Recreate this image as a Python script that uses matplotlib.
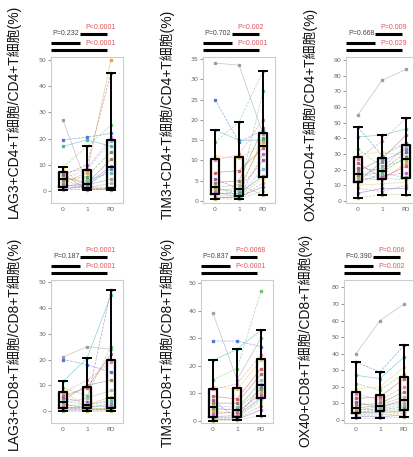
import numpy as np
import matplotlib
matplotlib.use('Agg')
import matplotlib.pyplot as plt

# 分组
groups = ['0', '1', 'PD']

# LAG3+CD4+
lag3_cd4_t0 = [27, 19.5, 17, 9.0, 8.2, 6.8, 6.3, 5.9, 5.3, 4.8, 4.2, 3.8, 3.2, 2.5, 1.8, 1.1, 1.0, 0.9, 0.8, 0.5]
lag3_cd4_t1 = [2.3, 20.5, 19.5, 17, 1.0, 8.5, 0.6, 10, 3.0, 8.0, 1.1, 5.5, 7.0, 0.9, 2.6, 4.0, 1.5, 0.4, 2.0, 0.8]
lag3_cd4_pd = [4.5, 22, 17, 25, 1.0, 20.5, 0.6, 45, 12, 19, 3.0, 15, 50, 0.9, 9.5, 7.0, 1.2, 0.5, 8.5, 0.8]

# TIM3+CD4+
tim3_cd4_t0 = [34, 25, 17.5, 14.5, 11.0, 10.0, 7.0, 5.5, 4.5, 3.7, 3.3, 3.0, 2.6, 2.2, 1.8, 1.4, 1.2, 1.0, 0.8, 0.5]
tim3_cd4_t1 = [33.5, 14.5, 15, 19.5, 10.5, 11.5, 7.5, 2.9, 5.0, 1.1, 4.0, 2.2, 3.1, 0.9, 1.8, 2.6, 1.3, 0.7, 1.0, 0.5]
tim3_cd4_pd = [16.5, 17.5, 15, 32, 14, 20, 13, 10, 18, 8.0, 1.5, 15.5, 14.5, 11.5, 6.2, 27, 5.5, 4.5, 3.5, 2.5]

# OX40+CD4+
ox40_cd4_t0 = [55, 47, 41, 33, 30, 27, 24, 21, 19, 17.5, 16.5, 16, 14.5, 13, 12.5, 11.5, 10, 8, 5, 2]
ox40_cd4_t1 = [77, 29, 42, 22, 31, 38, 15, 19.5, 27, 14.5, 21, 18.5, 13.5, 16, 25, 17.5, 11, 6, 8, 4]
ox40_cd4_pd = [84, 37, 46, 26, 29, 53, 22, 31, 42, 13.5, 35, 28, 24, 18, 33, 15, 12, 10, 8, 4]

# LAG3+CD8+
lag3_cd8_t0 = [21, 20, 11.5, 9, 8, 7, 5.8, 5, 4.3, 3.8, 3.3, 2.8, 2.2, 1.6, 1.1, 0.9, 0.8, 0.6, 0.4, 0.2]
lag3_cd8_t1 = [25, 18, 20.5, 6, 1.2, 12, 9.0, 3.5, 10, 2.7, 5, 0.9, 2.4, 0.5, 1.8, 2.1, 0.7, 1.5, 0.4, 0.2]
lag3_cd8_pd = [24, 15, 45, 25, 1.0, 19, 22, 47, 12, 3.5, 8, 0.8, 5.5, 0.4, 2, 4.5, 1.3, 2.8, 0.6, 0.2]

# TIM3+CD8+
tim3_cd8_t0 = [39, 29, 22, 15, 12.5, 11.5, 9, 7.5, 6.5, 5.5, 4.8, 4.2, 3.5, 2.5, 1.6, 1.2, 1, 0.8, 0.5, 0.2]
tim3_cd8_t1 = [15, 29, 26, 19, 11.5, 13.5, 8, 1.0, 6.5, 5, 3.8, 4.3, 2.8, 3.4, 2, 1.2, 1.5, 0.8, 0.6, 0.3]
tim3_cd8_pd = [30, 27, 33, 47, 22, 24, 19, 12.5, 17, 13.5, 15, 11.5, 10.5, 9.5, 8.5, 8, 7, 5.5, 4, 2]

# OX40+CD8+
ox40_cd8_t0 = [40, 35, 27, 22, 19, 16, 13, 11, 9, 7.5, 7, 6.5, 6, 5, 4.5, 4, 3.5, 3, 2, 1]
ox40_cd8_t1 = [60, 29, 25, 18, 20, 12, 14, 7.5, 10, 8.5, 9, 6, 8, 5.5, 4.5, 7, 4, 3, 2, 1]
ox40_cd8_pd = [70, 45, 38, 28, 32, 20, 25, 12.5, 17, 10, 14, 8, 11.5, 6.5, 5.5, 9, 5, 4, 3, 2]

ylabels = ['LAG3+CD4+T細胞/CD4+T細胞(%)', 'TIM3+CD4+T細胞/CD4+T細胞(%)', 'OX40+CD4+T細胞/CD4+T細胞(%)',
           'LAG3+CD8+T細胞/CD8+T細胞(%)', 'TIM3+CD8+T細胞/CD8+T細胞(%)', 'OX40+CD8+T細胞/CD8+T細胞(%)']
# (0 vs 1, 1 vs PD, 0 vs PD)
p_labels = [('P=0.232', 'P<0.0001', 'P<0.0001'),
            ('P=0.702', 'P=0.002', 'P=0.0001'),
            ('P=0.668', 'P=0.009', 'P=0.029'),
            ('P=0.187', 'P<0.0001', 'P<0.0001'),
            ('P=0.837', 'P=0.0068', 'P<0.0001'),
            ('P=0.390', 'P=0.006', 'P=0.002')]
y_max = [50, 35, 90, 50, 50, 80]
y_step = [10, 5, 10, 10, 10, 10]

panel_data = [(lag3_cd4_t0, lag3_cd4_t1, lag3_cd4_pd),
              (tim3_cd4_t0, tim3_cd4_t1, tim3_cd4_pd),
              (ox40_cd4_t0, ox40_cd4_t1, ox40_cd4_pd),
              (lag3_cd8_t0, lag3_cd8_t1, lag3_cd8_pd),
              (tim3_cd8_t0, tim3_cd8_t1, tim3_cd8_pd),
              (ox40_cd8_t0, ox40_cd8_t1, ox40_cd8_pd)]

patient_colors = ['#9a9a9a', '#4a6fd0', '#3cb8b0', '#6cc06c', '#e8cf5a', '#e07fb0', '#d05a5a',
                  '#8c5aa8', '#a0785a', '#7fb0e0', '#b0b0b0', '#50a050', '#e0a050', '#c060c0',
                  '#5a8ad0', '#60c0a0', '#d0d060', '#c08080', '#7070c0', '#a0c070']

LATIN_CJK = ['Liberation Sans', 'Noto Sans CJK TC', 'DejaVu Sans']
RED = '#e0555a'

W, H = 414, 457
# 每个子图的像素位置 (左, 上, 下)
axes_px = [(51, 57, 203), (203, 57, 203), (346, 57, 203),
           (51, 280, 423), (201, 280, 423), (344, 280, 423)]
ylims = [(-4.6, 51.1), (-0.5, 35.5), (-1.3, 91.9), (-4.6, 50.8), (-0.7, 51.1), (-1.8, 84.5)]
# y 轴标题中心 (像素)
label_px = [(21, 111), (175, 114), (317, 114), (21, 343), (175, 342), (312, 340)]


def draw_panel(fig, k):
    left, top, bottom = axes_px[k]
    h = bottom - top
    ax = fig.add_axes([left / W, (H - bottom) / H, 72 / W, h / H])
    t0, t1, tpd = panel_data[k]
    data = np.array([t0, t1, tpd], dtype=float)
    x = np.arange(len(groups))

    # 配对连线 + 点
    for i in range(data.shape[1]):
        c = patient_colors[i % len(patient_colors)]
        ls = '--' if i % 2 else '-'
        ax.plot(x, data[:, i], color=c, lw=0.5, ls=ls, alpha=0.6, zorder=1)
        ax.plot(x, data[:, i], 's', color=c, ms=1.5, alpha=0.9, zorder=3)

    ax.boxplot(data.T, positions=x, widths=0.3, showfliers=False,
               boxprops=dict(color='black', lw=1.6),
               whiskerprops=dict(color='black', lw=1.4),
               capprops=dict(color='black', lw=1.4),
               medianprops=dict(color='black', lw=1.4),
               capwidths=0.3, zorder=4)

    ax.set_xlim(-0.5, 2.5)
    ax.set_ylim(*ylims[k])
    ax.set_yticks(np.arange(0, y_max[k] + 1, y_step[k]))
    ax.set_xticks(x)
    ax.set_xticklabels(groups)
    ax.tick_params(axis='both', labelsize=4.5, colors='#666666', length=2, width=0.5, pad=1.5)
    ax.tick_params(axis='x', length=0, pad=3)
    for s in ax.spines.values():
        s.set_color('#cccccc')
        s.set_linewidth(0.8)

    # y 轴标题
    lx, ly = label_px[k]
    ax.set_ylabel(ylabels[k], fontsize=10, family=LATIN_CJK, color='#111111')
    ax.yaxis.set_label_coords((lx - left) / 72, (bottom - ly) / h)

    # 显著性标记
    trans = ax.get_xaxis_transform()
    p01, p1pd, p0pd = p_labels[k]
    ya, yb, yc = 1 + 23 / h, 1 + 14 / h, 1 + 7 / h
    for (x0, x1, y) in [(0.71, 1.83, ya), (-0.5, 0.71, yb), (-0.5, 1.83, yc)]:
        ax.plot([x0, x1], [y, y], color='black', lw=2.2, transform=trans, clip_on=False,
                solid_capstyle='butt')
    ax.text(0.68, ya, p01, transform=trans, ha='right', va='center', fontsize=5,
            family=LATIN_CJK, color='#444444')
    ax.text(0.92, 1 + 29 / h, p1pd, transform=trans, ha='left', va='center', fontsize=5,
            family=LATIN_CJK, color=RED)
    ax.text(0.92, 1 + 13 / h, p0pd, transform=trans, ha='left', va='center', fontsize=5,
            family=LATIN_CJK, color=RED)


def main():
    fig = plt.figure(figsize=(W / 100, H / 100), dpi=100)
    fig.patch.set_facecolor('white')
    for k in range(6):
        draw_panel(fig, k)
    fig.savefig('out.png', dpi=100)


if __name__ == '__main__':
    main()
